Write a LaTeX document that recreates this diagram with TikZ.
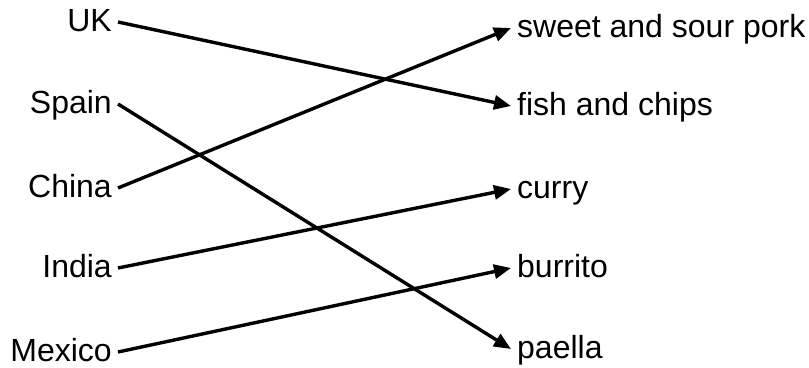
\documentclass[tikz,border=0pt]{standalone}
\usepackage{fontspec}
\setmainfont{Liberation Sans}
\usetikzlibrary{arrows.meta}
\begin{document}
\begin{tikzpicture}[x=1pt,y=-1pt,
  lab/.style={inner xsep=6pt,inner ysep=0pt,text height=23pt,text depth=5pt,font=\fontsize{32}{38}\selectfont},
  country/.style={lab,anchor=east},
  dish/.style={lab,anchor=west},
  link/.style={line width=3.4pt,-{Triangle[length=17pt,width=14pt]}}]
\useasboundingbox (0,0) rectangle (809,367);
\node[country] (uk) at (118,22) {UK};
\node[country] (spain) at (118,104) {Spain};
\node[country] (china) at (118,188) {China};
\node[country] (india) at (118,268) {India};
\node[country] (mexico) at (118,352) {Mexico};
\node[dish] (pork) at (511,28) {sweet and sour pork};
\node[dish] (fish) at (511,106) {fish and chips};
\node[dish] (curry) at (511,189) {curry};
\node[dish] (burrito) at (511,268) {burrito};
\node[dish] (paella) at (511,349) {paella};
\draw[link] (uk.east) -- (fish.west);
\draw[link] (spain.east) -- (paella.west);
\draw[link] (china.east) -- (pork.west);
\draw[link] (india.east) -- (curry.west);
\draw[link] (mexico.east) -- (burrito.west);
\end{tikzpicture}
\end{document}
